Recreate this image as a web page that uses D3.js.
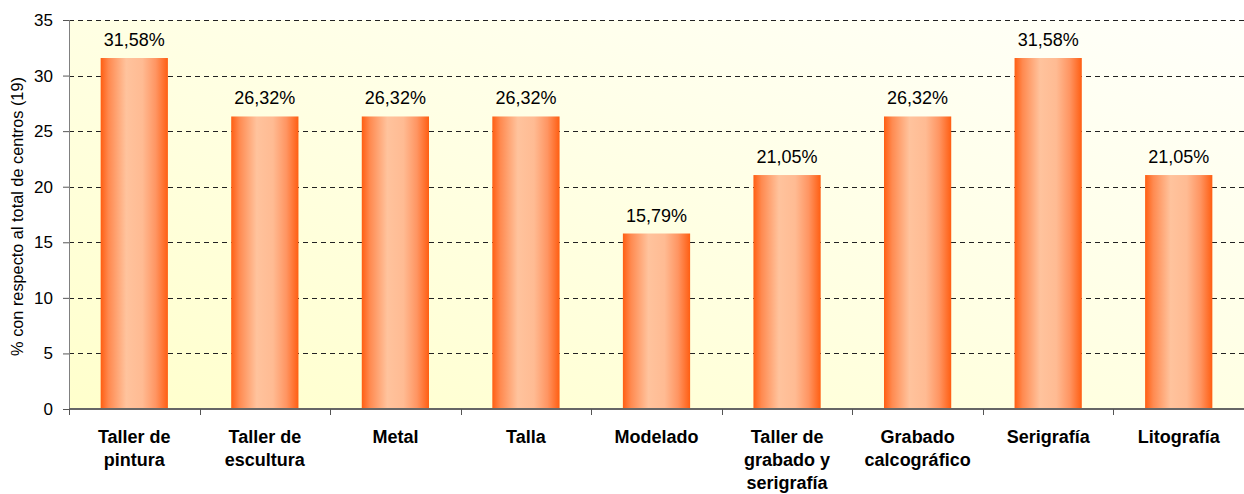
<!DOCTYPE html>
<html>
<head>
<meta charset="utf-8">
<script src="https://cdn.jsdelivr.net/npm/d3@7"></script>
<style>
  body { margin: 0; background: #fff; }
  svg { display: block; font-family: "Liberation Sans", Arial, sans-serif; }
</style>
</head>
<body>
<svg class="chart"></svg>
<script>
const categories = [
    ["Taller de", "pintura"],
    ["Taller de", "escultura"],
    ["Metal"],
    ["Talla"],
    ["Modelado"],
    ["Taller de", "grabado y", "serigrafía"],
    ["Grabado", "calcográfico"],
    ["Serigrafía"],
    ["Litografía"]
];
const values = [31.58, 26.32, 26.32, 26.32, 15.79, 21.05, 26.32, 31.58, 21.05];
const yTicks = [0, 5, 10, 15, 20, 25, 30, 35];

const margin = {top: 20, right: 0, bottom: 85, left: 69};
const width = 1244 - margin.left - margin.right;
const height = 494 - margin.top - margin.bottom;

const svg = d3.select(".chart")
    .attr("width", 1244)
    .attr("height", 494);

const defs = svg.append("defs");
const bg = defs.append("linearGradient")
    .attr("id", "bg")
    .attr("x1", 0).attr("y1", 1).attr("x2", 1).attr("y2", 0);
bg.append("stop").attr("offset", "0%").attr("stop-color", "#ffffcc");
bg.append("stop").attr("offset", "100%").attr("stop-color", "#fffffa");

const barGrad = defs.append("linearGradient")
    .attr("id", "bar")
    .attr("x1", 0).attr("y1", 0).attr("x2", 1).attr("y2", 0);
[["0%", "#ff5e12"], ["12%", "#ff8a50"], ["38%", "#ffc39d"], ["62%", "#ffbb93"], ["82%", "#ff9562"], ["100%", "#ff5e12"]]
    .forEach(s => barGrad.append("stop").attr("offset", s[0]).attr("stop-color", s[1]));

const x = d3.scaleBand()
    .domain(d3.range(categories.length))
    .range([0, width]);

const y = d3.scaleLinear()
    .domain([0, 35])
    .range([height, 0]);

const chart = svg.append("g")
    .attr("transform", `translate(${margin.left},${margin.top})`);

chart.append("rect")
    .attr("width", width)
    .attr("height", height)
    .attr("fill", "url(#bg)");

// dashed grid
chart.append("g")
    .selectAll("line")
    .data(yTicks.filter(d => d > 0))
    .enter().append("line")
    .attr("x1", 0)
    .attr("x2", width)
    .attr("y1", d => Math.round(y(d)) + 0.5)
    .attr("y2", d => Math.round(y(d)) + 0.5)
    .attr("stroke", "#222")
    .attr("stroke-dasharray", "5,4");

// bars
const bw = x.bandwidth() * 0.515;
const bars = chart.append("g")
    .selectAll("g")
    .data(values)
    .enter().append("g")
    .attr("transform", (d, i) => `translate(${x(i) + (x.bandwidth() - bw) / 2},0)`);

bars.append("rect")
    .attr("y", d => y(d))
    .attr("width", bw)
    .attr("height", d => height - y(d))
    .attr("fill", "url(#bar)");

bars.append("text")
    .attr("x", bw / 2)
    .attr("y", d => y(d) - 12)
    .attr("text-anchor", "middle")
    .attr("font-size", "18px")
    .attr("fill", "#000")
    .text(d => d.toFixed(2).replace(".", ",") + "%");

// y axis
const yAxis = d3.axisLeft(y)
    .tickValues(yTicks)
    .tickSize(6)
    .tickPadding(10);

const gy = chart.append("g").call(yAxis);
gy.select(".domain").attr("stroke", "#808080").attr("d", `M0.5,0V${height}`);
gy.selectAll(".tick line").attr("stroke", "#555");
gy.selectAll(".tick text")
    .attr("font-size", "17px")
    .attr("font-family", "Liberation Sans, Arial, sans-serif")
    .attr("fill", "#000");

// x axis
const gx = chart.append("g")
    .attr("transform", `translate(0,${height})`);
gx.append("line")
    .attr("x1", 0).attr("x2", width)
    .attr("y1", 0).attr("y2", 0)
    .attr("stroke", "#666")
    .attr("stroke-width", 2);
gx.selectAll(".xt")
    .data(d3.range(categories.length + 1))
    .enter().append("line")
    .attr("x1", d => Math.round(d === categories.length ? width : x(d)) + 0.5)
    .attr("x2", d => Math.round(d === categories.length ? width : x(d)) + 0.5)
    .attr("y1", 0).attr("y2", 6)
    .attr("stroke", "#555");

const labels = gx.selectAll(".xl")
    .data(categories)
    .enter().append("text")
    .attr("text-anchor", "middle")
    .attr("font-size", "18px")
    .attr("font-weight", "bold")
    .attr("transform", (d, i) => `translate(${x(i) + x.bandwidth() / 2},34)`);

labels.selectAll("tspan")
    .data(d => d)
    .enter().append("tspan")
    .attr("x", 0)
    .attr("dy", (d, i) => i === 0 ? 0 : 23)
    .text(d => d);

// y label
svg.append("text")
    .attr("transform", `translate(23,${margin.top + height / 2 + 2}) rotate(-90)`)
    .attr("text-anchor", "middle")
    .attr("font-size", "16.3px")
    .text("% con respecto al total de centros (19)");
</script>
</body>
</html>
